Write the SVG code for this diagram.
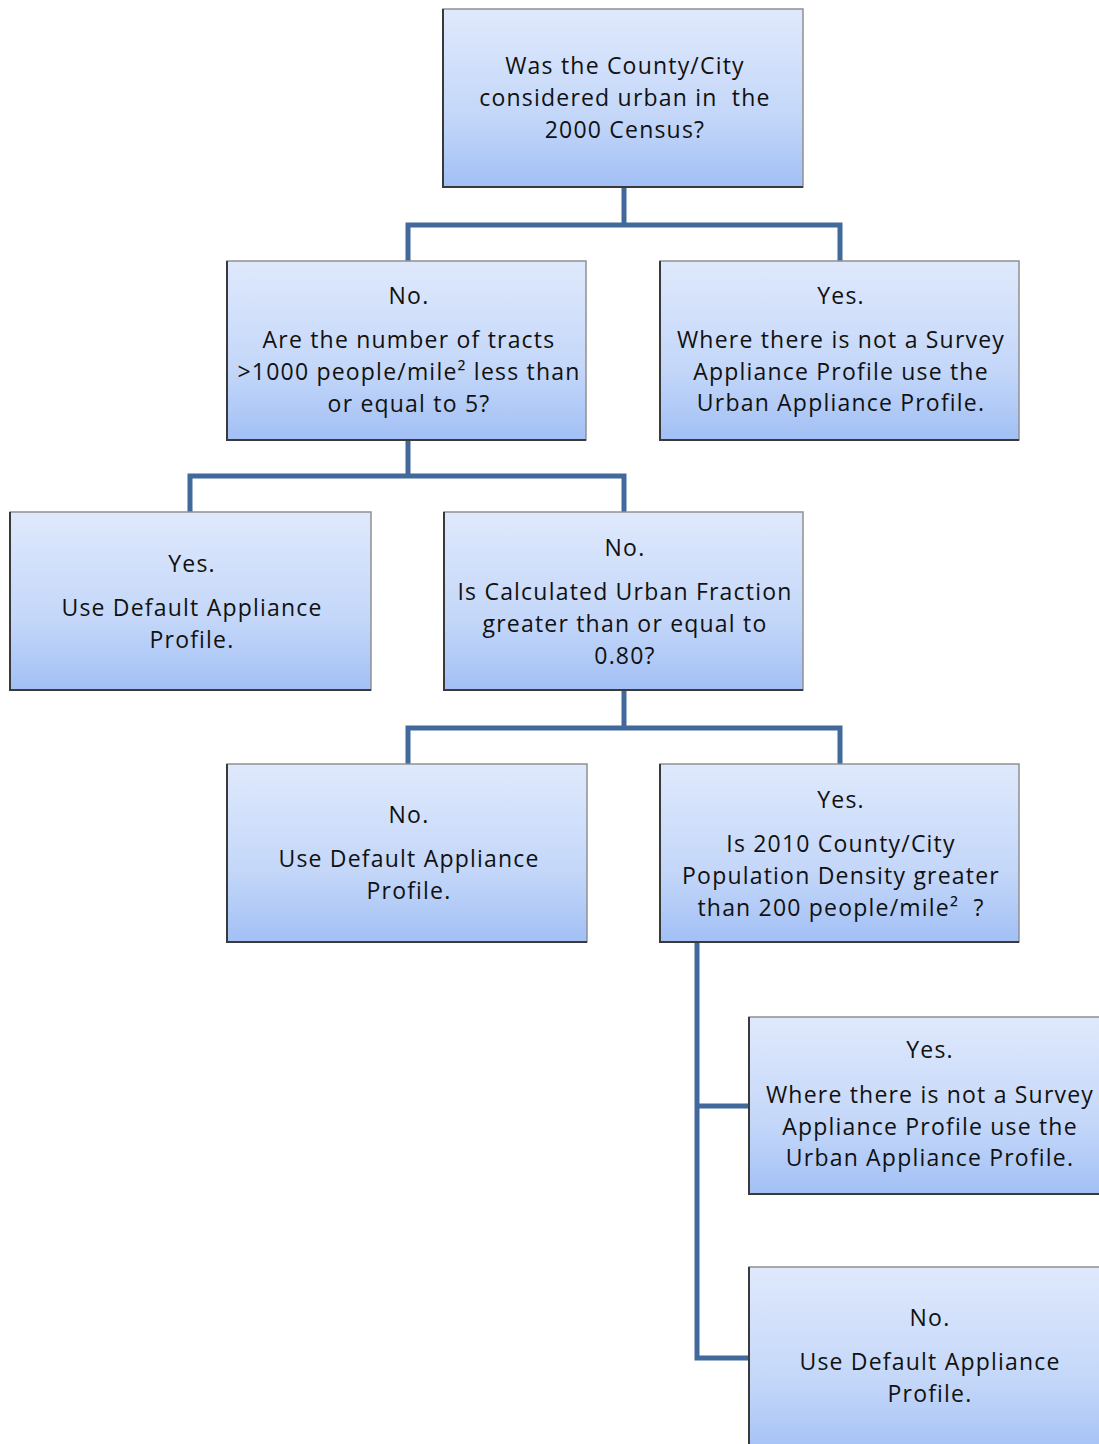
<svg xmlns="http://www.w3.org/2000/svg" width="1099" height="1444" viewBox="0 0 1099 1444">
<defs>
<linearGradient id="g" x1="0" y1="0" x2="0" y2="1">
<stop offset="0" stop-color="#dfe9fc"/>
<stop offset="0.6" stop-color="#c4d7f9"/>
<stop offset="1" stop-color="#a2c0f5"/>
</linearGradient>
<style>
.box{fill:url(#g);stroke:#909090;stroke-width:1.5}
.sh{fill:none;stroke:#3a3a3a;stroke-width:2}
.t{font-family:"Open Sans","Liberation Sans",sans-serif;font-size:23px;letter-spacing:1.2px;fill:#111;text-anchor:middle;white-space:pre}
.c{fill:none;stroke:#41699c;stroke-width:5;stroke-linejoin:miter;stroke-linecap:butt}
</style>
</defs>
<rect width="1099" height="1444" fill="#fff"/>
<g id="connectors">
<path class="c" d="M624 187V225M408 261V225H840V261"/>
<path class="c" d="M408 440V476M190 512V476H624V512"/>
<path class="c" d="M624 690V728M408 764V728H840V764"/>
<path class="c" d="M697 942V1358H749M697 1106H749"/>
</g>
<g id="n1">
<rect class="box" x="443" y="9" width="360" height="178"/>
<path class="sh" d="M443 9V187H803"/>
<text class="t" x="625" y="74">Was the County/City</text>
<text class="t" x="625" y="106">considered urban in  the</text>
<text class="t" x="625" y="138">2000 Census?</text>
</g>
<g id="n2">
<rect class="box" x="227" y="261" width="359" height="179"/>
<path class="sh" d="M227 261V440H586"/>
<text class="t" x="409" y="304">No.</text>
<text class="t" x="409" y="348">Are the number of tracts</text>
<text class="t" x="409" y="380">&gt;1000 people/mile² less than</text>
<text class="t" x="409" y="412">or equal to 5?</text>
</g>
<g id="n3">
<rect class="box" x="660" y="261" width="359" height="179"/>
<path class="sh" d="M660 261V440H1019"/>
<text class="t" x="841" y="304">Yes.</text>
<text class="t" x="841" y="348">Where there is not a Survey</text>
<text class="t" x="841" y="380">Appliance Profile use the</text>
<text class="t" x="841" y="411">Urban Appliance Profile.</text>
</g>
<g id="n4">
<rect class="box" x="10" y="512" width="361" height="178"/>
<path class="sh" d="M10 512V690H371"/>
<text class="t" x="192" y="572">Yes.</text>
<text class="t" x="192" y="616">Use Default Appliance</text>
<text class="t" x="192" y="648">Profile.</text>
</g>
<g id="n5">
<rect class="box" x="444" y="512" width="359" height="178"/>
<path class="sh" d="M444 512V690H803"/>
<text class="t" x="625" y="556">No.</text>
<text class="t" x="625" y="600">Is Calculated Urban Fraction</text>
<text class="t" x="625" y="632">greater than or equal to</text>
<text class="t" x="625" y="664">0.80?</text>
</g>
<g id="n6">
<rect class="box" x="227" y="764" width="360" height="178"/>
<path class="sh" d="M227 764V942H587"/>
<text class="t" x="409" y="823">No.</text>
<text class="t" x="409" y="867">Use Default Appliance</text>
<text class="t" x="409" y="899">Profile.</text>
</g>
<g id="n7">
<rect class="box" x="660" y="764" width="359" height="178"/>
<path class="sh" d="M660 764V942H1019"/>
<text class="t" x="841" y="808">Yes.</text>
<text class="t" x="841" y="852">Is 2010 County/City</text>
<text class="t" x="841" y="884">Population Density greater</text>
<text class="t" x="841" y="916">than 200 people/mile²  ?</text>
</g>
<g id="n8">
<rect class="box" x="749" y="1017" width="362" height="177"/>
<path class="sh" d="M749 1017V1194H1111"/>
<text class="t" x="930" y="1058">Yes.</text>
<text class="t" x="930" y="1103">Where there is not a Survey</text>
<text class="t" x="930" y="1135">Appliance Profile use the</text>
<text class="t" x="930" y="1166">Urban Appliance Profile.</text>
</g>
<g id="n9">
<rect class="box" x="749" y="1267" width="362" height="190"/>
<path class="sh" d="M749 1267V1457"/>
<text class="t" x="930" y="1326">No.</text>
<text class="t" x="930" y="1370">Use Default Appliance</text>
<text class="t" x="930" y="1402">Profile.</text>
</g>
</svg>
